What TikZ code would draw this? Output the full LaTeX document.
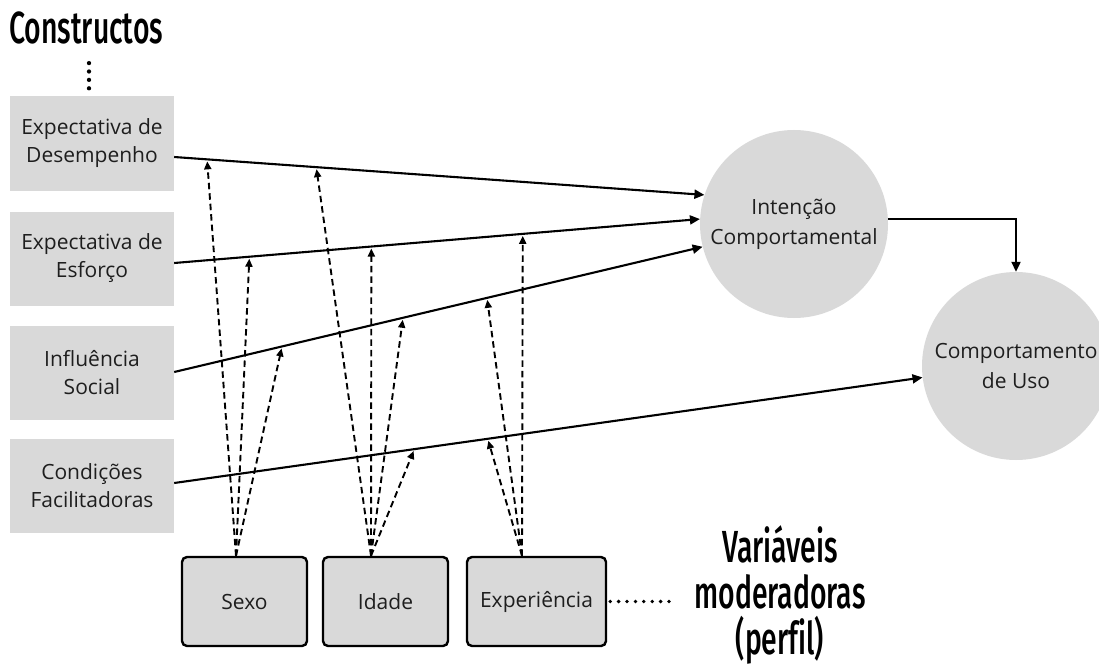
\documentclass[tikz,border=0pt]{standalone}
\usepackage{fontspec}
\setmainfont{Open Sans}
\newfontfamily\headfont[FakeStretch=0.63, Ligatures=NoCommon]{Fira Sans Medium}
\usetikzlibrary{arrows.meta,calc}
\definecolor{boxgray}{RGB}{217,217,217}
\definecolor{ink}{RGB}{30,30,30}

\begin{document}
\begin{tikzpicture}[x=1pt,y=-1pt,
  construct/.style={fill=boxgray, minimum width=164pt, minimum height=94pt,
    inner sep=0pt, align=center, text=ink, font=\fontsize{21}{28}\selectfont},
  latent/.style={circle, fill=boxgray, minimum size=188pt, inner sep=0pt,
    align=center, text=ink, font=\fontsize{21}{30}\selectfont},
  moderator/.style={draw=black, line width=2.4pt, fill=boxgray,
    rounded corners=5pt, minimum height=89pt, inner sep=0pt, text=ink,
    font=\fontsize{21}{28}\selectfont},
  effect/.style={line width=2.1pt, -{Triangle[length=10pt,width=9pt]}},
  moderation/.style={line width=1.9pt, dash pattern=on 6.5pt off 4pt,
    shorten >=2pt, -{Triangle[length=8pt,width=7pt]}},
  dotline/.style={line width=3.8pt, line cap=round, dash pattern=on 0pt off 8.4pt},
  heading/.style={font=\headfont\fontsize{45}{46}\selectfont, inner sep=0pt},
]
\useasboundingbox (0,0) rectangle (1099,671);

% headings
\node[heading, anchor=base west] (title) at (9,44) {Constructos};
\node[heading, align=center] (varmod) at (780,595) {Variáveis\\moderadoras\\(perfil)};

% constructs
\node[construct] (c1) at (92,143.5) {Expectativa de\\Desempenho};
\node[construct] (c2) at (92,258.5) {Expectativa de\\Esforço};
\node[construct] (c3) at (92,373)   {Influência\\Social};
\node[construct] (c4) at (92,485.5) {Condições\\Facilitadoras};

% outcomes
\node[latent] (ic) at (794,224)  {Intenção\\Comportamental};
\node[latent] (cu) at (1016,366) {Comportamento\\de Uso};

% moderators
\node[moderator, minimum width=125pt] (sexo)  at (244.5,601.5) {Sexo};
\node[moderator, minimum width=125pt] (idade) at (385.5,601.5) {Idade};
\node[moderator, minimum width=139pt] (exp)   at (536.5,601.5) {Experiência};

% dotted links to the headings
\draw[dotline, line width=4.3pt] ($(c1.north)+(-3,-8)$) -- ($(c1.north)+(-3,-34)$);
\coordinate (modlabel) at (674,601.5);
\draw[dotline, shorten <=3pt] (exp.east) -- (modlabel);

% direct effects
\draw[effect] ($(c1.east)+(0,13.5)$) -- coordinate[pos=0.062] (d11) coordinate[pos=0.268] (d12) (ic.162);
\draw[effect] ($(c2.east)+(0,4.5)$) -- coordinate[pos=0.143] (d21) coordinate[pos=0.375] (d22) coordinate[pos=0.663] (d23) (ic.177.5);
\draw[effect] ($(c3.east)+(0,-1)$) -- coordinate[pos=0.204] (d31) coordinate[pos=0.433] (d32) coordinate[pos=0.592] (d33) (ic.194);
\draw[effect] ($(c4.east)+(0,-2.5)$) -- coordinate[pos=0.321] (d41) coordinate[pos=0.419] (d42) (cu.187.3);
\draw[effect] (ic.3) -| (cu.north);

% moderating effects
\coordinate (sx) at ($(sexo.north)+(-8.5,0)$);
\coordinate (ix) at ($(idade.north)+(-14.5,0)$);
\coordinate (ex) at ($(exp.north)+(-14.5,0)$);
\foreach \t in {d11,d21,d31} \draw[moderation] (sx) -- (\t);
\foreach \t in {d12,d22,d32,d41} \draw[moderation] (ix) -- (\t);
\foreach \t in {d23,d33,d42} \draw[moderation] (ex) -- (\t);
\end{tikzpicture}
\end{document}
